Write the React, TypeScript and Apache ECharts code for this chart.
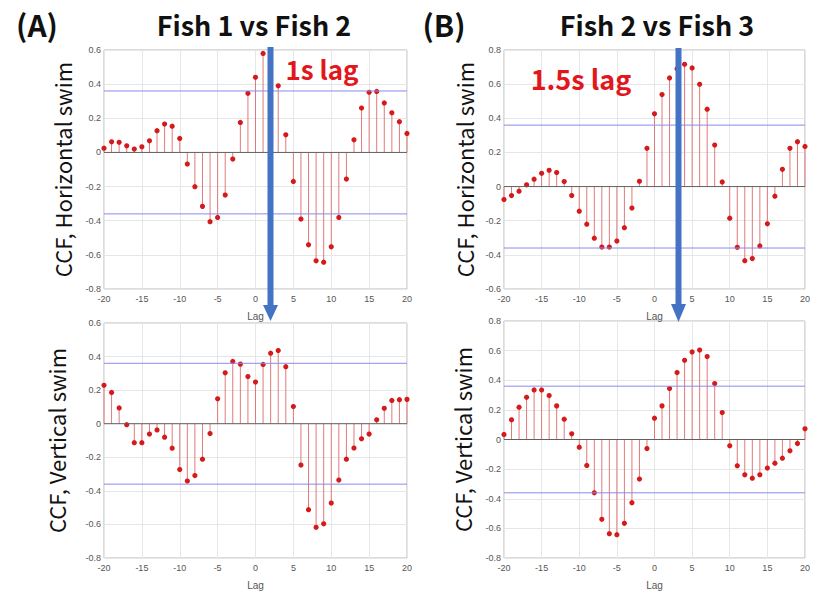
import React, { useEffect, useRef } from "react";
import * as echarts from "echarts";

const lags = [-20, -19, -18, -17, -16, -15, -14, -13, -12, -11, -10, -9, -8, -7, -6, -5, -4, -3, -2, -1, 0, 1, 2, 3, 4, 5, 6, 7, 8, 9, 10, 11, 12, 13, 14, 15, 16, 17, 18, 19, 20];

const fish12Horizontal = [0.025, 0.062, 0.059, 0.039, 0.02, 0.033, 0.068, 0.127, 0.166, 0.154, 0.082, -0.068, -0.201, -0.316, -0.406, -0.381, -0.25, -0.039, 0.176, 0.346, 0.44, 0.58, 0.52, 0.39, 0.103, -0.17, -0.39, -0.541, -0.635, -0.643, -0.553, -0.381, -0.156, 0.074, 0.26, 0.352, 0.357, 0.29, 0.232, 0.18, 0.111];
const fish12Vertical = [0.229, 0.186, 0.094, -0.006, -0.113, -0.113, -0.062, -0.037, -0.08, -0.146, -0.273, -0.342, -0.309, -0.211, -0.059, 0.148, 0.303, 0.371, 0.355, 0.281, 0.248, 0.353, 0.42, 0.436, 0.34, 0.102, -0.246, -0.512, -0.617, -0.596, -0.473, -0.336, -0.211, -0.145, -0.09, -0.062, 0.023, 0.092, 0.139, 0.143, 0.145];
const fish23Horizontal = [-0.076, -0.053, -0.027, 0.01, 0.043, 0.078, 0.095, 0.082, 0.029, -0.053, -0.144, -0.22, -0.302, -0.354, -0.354, -0.319, -0.241, -0.126, 0.031, 0.224, 0.426, 0.539, 0.636, 0.69, 0.716, 0.695, 0.599, 0.453, 0.243, 0.027, -0.185, -0.356, -0.434, -0.422, -0.348, -0.218, -0.056, 0.101, 0.224, 0.263, 0.235];
const fish23Vertical = [0.034, 0.133, 0.218, 0.285, 0.335, 0.335, 0.297, 0.227, 0.137, 0.038, -0.052, -0.175, -0.36, -0.539, -0.636, -0.643, -0.566, -0.427, -0.267, -0.061, 0.144, 0.227, 0.344, 0.452, 0.535, 0.591, 0.604, 0.56, 0.378, 0.182, -0.043, -0.178, -0.238, -0.261, -0.238, -0.193, -0.16, -0.126, -0.076, -0.027, 0.072];

const confidenceBounds = [0.36, -0.36];
const yMins = [-0.8, -0.8, -0.6, -0.8];
const yMaxs = [0.6, 0.6, 0.8, 0.8];
const yNames = ["CCF, Horizontal swim", "CCF, Vertical swim", "CCF, Horizontal swim", "CCF, Vertical swim"];
const panelSeries = [fish12Horizontal, fish12Vertical, fish23Horizontal, fish23Vertical];

const grids = [
  { left: 104, top: 50, width: 303, height: 239 },
  { left: 104, top: 323, width: 303, height: 240 },
  { left: 504, top: 50, width: 303, height: 239 },
  { left: 504, top: 321, width: 303, height: 237 },
];
const nameGaps = [31, 37, 29, 31];

const tickFont = "Liberation Sans, Arial, sans-serif";
const koFont = "'Noto Sans CJK KR', 'Noto Sans', sans-serif";

export default function App() {
  const ref = useRef<HTMLDivElement>(null);

  useEffect(() => {
    if (!ref.current) return;
    const chart = echarts.init(ref.current, null, { renderer: "svg" });

    const xAxes = grids.map((_, i) => ({
      type: "value",
      gridIndex: i,
      min: -20,
      max: 20,
      interval: 5,
      name: "Lag",
      nameLocation: "middle",
      nameGap: 22,
      nameTextStyle: { color: "#555", fontSize: 10, fontFamily: tickFont },
      axisLine: { show: false },
      axisTick: { show: false },
      axisLabel: { color: "#555", fontSize: 9, fontFamily: tickFont, margin: 5 },
      splitLine: { show: true, lineStyle: { color: "#e6e6e6", width: 1 } },
    }));

    const yAxes = grids.map((_, i) => ({
      type: "value",
      gridIndex: i,
      min: yMins[i],
      max: yMaxs[i],
      interval: 0.2,
      name: yNames[i],
      nameLocation: "middle",
      nameRotate: 90,
      nameGap: nameGaps[i],
      nameTextStyle: { color: "#111", fontSize: 22, fontFamily: koFont },
      axisLine: { show: false },
      axisTick: { show: false },
      axisLabel: {
        color: "#555",
        fontSize: 9,
        fontFamily: tickFont,
        margin: 3,
        formatter: (v: number) => String(parseFloat(v.toFixed(1))),
      },
      splitLine: { show: true, lineStyle: { color: "#e6e6e6", width: 1 } },
    }));

    const series: any[] = [];
    panelSeries.forEach((vals, i) => {
      confidenceBounds.forEach((b) => {
        series.push({
          type: "line",
          xAxisIndex: i,
          yAxisIndex: i,
          data: [[-20, b], [20, b]],
          showSymbol: false,
          silent: true,
          lineStyle: { color: "#8a8aee", width: 1 },
        });
      });
      series.push({
        type: "line",
        xAxisIndex: i,
        yAxisIndex: i,
        data: [[-20, 0], [20, 0]],
        showSymbol: false,
        silent: true,
        lineStyle: { color: "#606060", width: 1 },
      });
      series.push({
        type: "custom",
        xAxisIndex: i,
        yAxisIndex: i,
        z: 2,
        data: lags.map((l, k) => [l, vals[k]]),
        encode: { x: 0, y: 1 },
        renderItem: (params: any, api: any) => {
          const x = api.value(0);
          const y = api.value(1);
          const p0 = api.coord([x, 0]);
          const p1 = api.coord([x, y]);
          return {
            type: "group",
            children: [
              {
                type: "line",
                shape: { x1: p0[0], y1: p0[1], x2: p1[0], y2: p1[1] },
                style: { stroke: "#e07a7a", lineWidth: 1 },
              },
              {
                type: "circle",
                shape: { cx: p1[0], cy: p1[1], r: 2.6 },
                style: { fill: "#d41a1a" },
              },
            ],
          };
        },
      });
    });

    const arrow = (cx: number, top: number, headTop: number, headBottom: number) => ({
      type: "group",
      z: 100,
      children: [
        { type: "rect", z: 100, shape: { x: cx - 3, y: top, width: 6, height: headTop - top + 1 }, style: { fill: "#4472c4" } },
        { type: "polygon", z: 100, shape: { points: [[cx - 7.5, headTop], [cx + 7.5, headTop], [cx, headBottom]] }, style: { fill: "#4472c4" } },
      ],
    });

    const txt = (text: string, x: number, y: number, size: number, color: string) => ({
      type: "text",
      x,
      y,
      z: 100,
      style: {
        text,
        fill: color,
        font: `bold ${size}px ${koFont}`,
        align: "center",
        verticalAlign: "middle",
      },
    });

    chart.setOption({
      animation: false,
      backgroundColor: "#ffffff",
      grid: grids.map((g) => ({ ...g, show: true, borderColor: "#b8b8b8", borderWidth: 1, backgroundColor: "transparent" })),
      xAxis: xAxes,
      yAxis: yAxes,
      series,
      graphic: [
        txt("(A)", 37, 24, 30, "#111"),
        txt("Fish 1 vs Fish 2", 254, 24, 27, "#111"),
        txt("(B)", 444, 24, 30, "#111"),
        txt("Fish 2 vs Fish 3", 657, 24, 27, "#111"),
        txt("1s lag", 322, 68, 26, "#e3161c"),
        txt("1.5s lag", 581, 78, 27, "#e3161c"),
        arrow(270.5, 47, 305, 321),
        arrow(678.5, 48, 304, 322),
      ],
    });

    return () => chart.dispose();
  }, []);

  return (
    <div
      ref={ref}
      style={{ position: "absolute", left: 0, top: 0, width: 813, height: 591 }}
    />
  );
}
